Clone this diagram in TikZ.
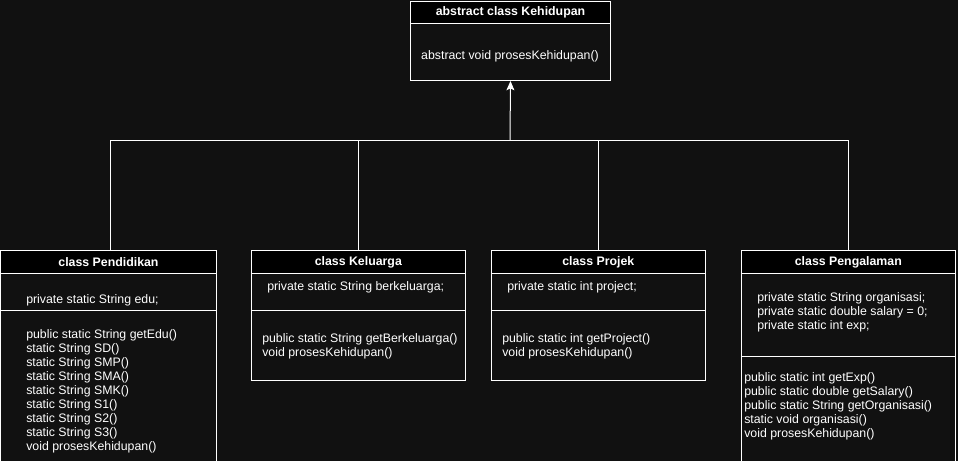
\documentclass[tikz,border=0pt]{standalone}
\usepackage{fontspec}
\setmainfont{Liberation Sans}
\usetikzlibrary{arrows.meta}
\definecolor{bg}{RGB}{17,17,17}
\begin{document}
\begin{tikzpicture}[x=0.75pt,y=-0.75pt,
  every node/.style={text=white, font=\fontsize{9.25}{10.5}\selectfont},
  sz/.style n args={2}{minimum width=#1*0.75pt, minimum height=#2*0.75pt},
  hdr/.style={draw=white, fill=black, line width=0.75pt, inner sep=0, anchor=north west, font=\fontsize{9.25}{10.5}\selectfont\bfseries},
  comp/.style={draw=white, fill=bg, line width=0.75pt, inner sep=0, anchor=north west},
  txt/.style={inner sep=0, anchor=north west, align=left},
  conn/.style={draw=white, line width=0.75pt},
]
\fill[bg] (0,0) rectangle (958,461);
\useasboundingbox (0,0) rectangle (958,461);

% parent
\node[hdr, sz={200}{22}] (keh) at (410,1) {abstract class Kehidupan};
\node[comp, sz={200}{57}] (kehb) at (410,23) {};
\node[txt, anchor=center] (kehm) at (510,56) {abstract void prosesKehidupan()};

% Pendidikan
\node[hdr, sz={216}{23}] (ped) at (0,250) {class Pendidikan};
\node[comp, sz={216}{37}] (peda) at (0,273) {};
\node[comp, sz={216}{155}] (pedm) at (0,310) {};
\node[txt] (pedat) at (26,293.5) {\strut private static String edu;};
\node[txt] (pedmt) at (26,328.8) {\strut public static String getEdu()\\static String SD()\\static String SMP()\\static String SMA()\\static String SMK()\\static String S1()\\static String S2()\\static String S3()\\void prosesKehidupan()};

% Keluarga
\node[hdr, sz={214.3}{23}] (kel) at (250.7,250) {class Keluarga};
\node[comp, sz={214.3}{37}] (kela) at (250.7,273) {};
\node[comp, sz={214.3}{70}] (kelm) at (250.7,310) {};
\node[txt] (kelat) at (267,280.2) {\strut private static String berkeluarga;};
\node[txt] (kelmt) at (262,332.5) {\strut public static String getBerkeluarga()\\void prosesKehidupan()};

% Projek
\node[hdr, sz={214.3}{23}] (pro) at (490.7,250) {class Projek};
\node[comp, sz={214.3}{37}] (proa) at (490.7,273) {};
\node[comp, sz={214.3}{70}] (prom) at (490.7,310) {};
\node[txt] (proat) at (507,280.2) {\strut private static int project;};
\node[txt] (promt) at (502,332.5) {\strut public static int getProject()\\void prosesKehidupan()};

% Pengalaman
\node[hdr, sz={214.3}{23}] (pen) at (740.7,250) {class Pengalaman};
\node[comp, sz={214.3}{83}] (pena) at (740.7,273) {};
\node[comp, sz={214.3}{110}] (penm) at (740.7,356) {};
\node[txt] (penat) at (757,291.2) {\strut private static String organisasi;\\private static double salary = 0;\\private static int exp;};
\node[txt] (penmt) at (744,371.2) {\strut public static int getExp()\\public static double getSalary()\\public static String getOrganisasi()\\static void organisasi()\\void prosesKehidupan()};

% connectors
\coordinate (j) at (510,140);
\draw[conn] ([xshift=1.5pt]ped.north) |- (j);
\draw[conn] (kel.north) |- (j);
\draw[conn] (pro.north) |- (j);
\draw[conn] (pen.north) |- (j);
\draw[conn, -{Stealth[length=7pt, width=6pt, inset=1.5pt]}] (j) -- (kehb.south);
\end{tikzpicture}
\end{document}
